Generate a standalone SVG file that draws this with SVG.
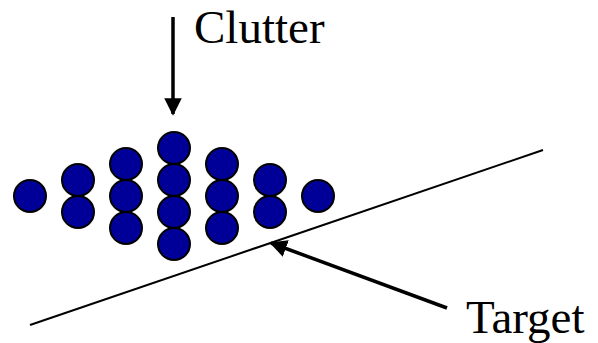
<svg xmlns="http://www.w3.org/2000/svg" width="598" height="343" viewBox="0 0 598 343">
<style>
.dot{fill:#000099;stroke:#000;stroke-width:2}
.lbl{font-family:"Liberation Serif",serif;font-size:47px;fill:#000}
.arr{stroke:#000;stroke-width:3.5;fill:none}
</style>
<defs>
<marker id="ah" markerWidth="5" markerHeight="5" refX="4.5" refY="2.5" orient="auto" markerUnits="strokeWidth">
<path d="M0,0 L5,2.5 L0,5 Z" fill="#000"/>
</marker>
</defs>
<rect width="598" height="343" fill="#fff"/>
<g id="target-line"><line x1="30" y1="325" x2="543" y2="150" stroke="#000" stroke-width="2"/></g>
<g id="clutter">
<circle class="dot" cx="30" cy="196" r="16"/>
<circle class="dot" cx="78" cy="180" r="16"/>
<circle class="dot" cx="78" cy="212" r="16"/>
<circle class="dot" cx="126" cy="164" r="16"/>
<circle class="dot" cx="126" cy="196" r="16"/>
<circle class="dot" cx="126" cy="228" r="16"/>
<circle class="dot" cx="174" cy="148" r="16"/>
<circle class="dot" cx="174" cy="180" r="16"/>
<circle class="dot" cx="174" cy="212" r="16"/>
<circle class="dot" cx="174" cy="244" r="16"/>
<circle class="dot" cx="222" cy="164" r="16"/>
<circle class="dot" cx="222" cy="196" r="16"/>
<circle class="dot" cx="222" cy="228" r="16"/>
<circle class="dot" cx="270" cy="180" r="16"/>
<circle class="dot" cx="270" cy="212" r="16"/>
<circle class="dot" cx="318" cy="196" r="16"/>
</g>
<g id="connectors">
<line class="arr" x1="173" y1="17" x2="173" y2="114" marker-end="url(#ah)"/>
<line class="arr" x1="447" y1="308" x2="271" y2="243" marker-end="url(#ah)"/>
</g>
<g id="label-clutter"><text class="lbl" x="194" y="43">Clutter</text></g>
<g id="label-target"><text class="lbl" x="466" y="333">Target</text></g>
</svg>
